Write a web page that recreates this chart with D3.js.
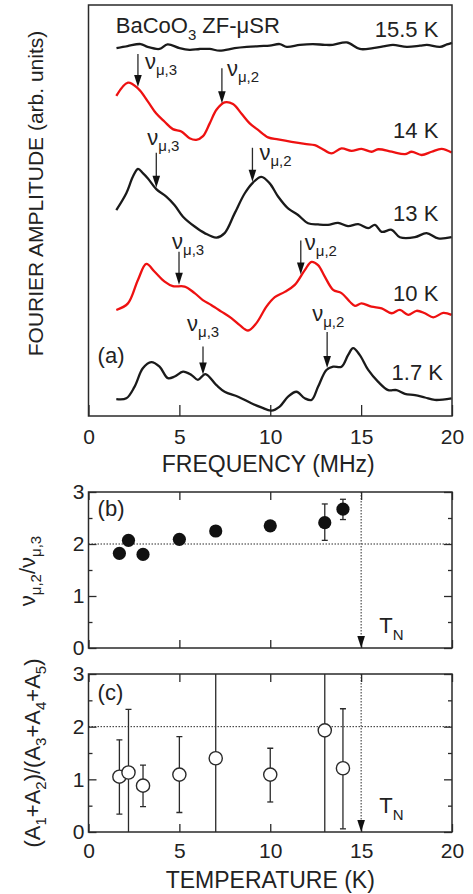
<!DOCTYPE html>
<html>
<head>
<meta charset="utf-8">
<script src="https://cdn.jsdelivr.net/npm/d3@7"></script>
<style>
body { margin: 0; background: #fff; }
svg text { font-family: "Liberation Sans", Arial, sans-serif; fill: #222; }
</style>
</head>
<body>
<div id="chart"></div>
<script>
// ---- (a) ZF-muSR Fourier spectra, amplitude in arb. units ----
var freq155 = [1.54, 2.15, 2.87, 3.25, 3.91, 4.35, 5.01, 5.56, 6.12, 6.67, 7.22, 8.04, 8.71, 9.42, 9.97, 10.52, 10.91, 11.63, 12.34, 13.0, 13.44, 14.21, 14.93, 15.65, 16.31, 16.75, 17.52, 18.24, 18.62, 19.34, 19.72, 20.0];
var amp155 = [89.5, 90.0, 90.5, 89.8, 89.3, 90.4, 89.5, 89.1, 89.3, 89.3, 88.9, 89.5, 89.8, 90.0, 90.1, 90.5, 89.8, 90.3, 90.5, 90.3, 90.3, 90.9, 89.3, 89.5, 90.0, 90.3, 89.8, 90.1, 90.3, 89.8, 90.4, 90.8];

var freq14 = [1.53, 2.17, 2.72, 3.27, 3.73, 4.19, 4.64, 5.11, 5.56, 5.93, 6.30, 6.67, 7.04, 7.49, 7.95, 8.41, 8.87, 9.33, 9.88, 10.43, 11.17, 11.90, 12.45, 12.82, 13.37, 13.92, 14.47, 15.02, 15.58, 15.94, 16.68, 17.41, 17.78, 18.33, 18.88, 19.43, 19.98];
var amp14 = [77.9, 81.1, 79.7, 76.5, 73.6, 71.6, 69.8, 69.2, 67.6, 67.2, 68.1, 71.2, 74.5, 76.3, 75.9, 73.6, 71.2, 69.6, 67.8, 67.3, 66.7, 66.2, 65.9, 65.1, 63.9, 65.1, 64.5, 65.0, 64.3, 64.9, 64.3, 63.7, 64.3, 63.5, 64.3, 65.0, 64.1];

var freq13 = [1.53, 2.08, 2.44, 2.72, 2.99, 3.27, 3.73, 4.28, 4.74, 5.20, 5.84, 6.39, 7.04, 7.49, 8.04, 8.60, 9.05, 9.51, 9.97, 10.43, 10.98, 11.53, 12.08, 12.63, 13.18, 13.73, 14.28, 14.84, 15.39, 15.76, 16.13, 16.68, 17.13, 17.96, 18.60, 19.24, 19.98];
var amp13 = [50.1, 54.2, 58.2, 60.1, 59.1, 57.8, 55.2, 53.4, 51.3, 48.5, 46.1, 44.5, 43.4, 44.5, 49.3, 54.2, 56.8, 58.2, 56.6, 53.4, 50.5, 48.9, 46.9, 46.6, 46.5, 47.0, 46.2, 46.7, 45.7, 46.5, 44.8, 45.3, 43.5, 43.5, 44.5, 43.2, 43.5];

var freq10 = [1.53, 2.17, 2.72, 3.18, 3.64, 4.19, 4.64, 5.29, 5.84, 6.29, 6.75, 7.31, 7.86, 8.32, 8.78, 9.24, 9.79, 10.25, 10.80, 11.35, 11.90, 12.27, 12.63, 13.00, 13.46, 13.92, 14.38, 14.66, 15.02, 15.57, 16.13, 16.68, 17.13, 17.59, 18.05, 18.51, 18.97, 19.52, 19.98];
var amp10 = [25.8, 27.4, 33.1, 37.0, 35.1, 32.7, 31.6, 31.5, 29.9, 28.2, 27.0, 25.4, 23.8, 22.1, 20.8, 22.6, 26.6, 28.9, 30.2, 31.9, 35.5, 37.5, 36.7, 33.9, 30.7, 29.9, 27.8, 26.8, 27.4, 26.6, 26.2, 25.0, 25.8, 24.6, 25.6, 25.0, 24.0, 25.1, 24.6];

var freq17 = [1.53, 2.08, 2.53, 2.99, 3.45, 3.91, 4.37, 4.74, 5.20, 5.66, 6.02, 6.43, 7.04, 7.49, 8.23, 8.96, 9.51, 10.06, 10.52, 10.98, 11.44, 11.90, 12.27, 12.63, 13.09, 13.46, 13.92, 14.28, 14.56, 14.93, 15.39, 15.94, 16.49, 16.95, 17.41, 17.96, 18.51, 19.06, 19.98];
var amp17 = [4.1, 4.3, 7.1, 11.6, 13.1, 12.0, 9.2, 9.6, 10.8, 10.0, 8.8, 10.2, 7.5, 5.9, 4.7, 3.1, 2.1, 1.3, 2.3, 4.7, 5.9, 4.3, 3.9, 7.1, 11.2, 12.0, 12.0, 14.8, 16.5, 14.8, 11.2, 8.3, 6.3, 6.3, 5.4, 5.1, 4.5, 3.9, 4.3];

var specLabels = ["15.5 K", "14 K", "13 K", "10 K", "1.7 K"];
var specColors = ["#1a1a1a", "#ee1111", "#1a1a1a", "#ee1111", "#1a1a1a"];

// muon frequencies marked by arrows (MHz) for 14 K, 13 K, 10 K, 1.7 K
var nu3 = [2.72, 3.73, 4.98, 6.30];
var nu2 = [7.34, 9.02, 11.68, 13.13];

// ---- (b) frequency ratio ----
var tempB = [1.7, 2.2, 3, 5, 7, 10, 13, 14];
var ratioB = [1.82, 2.07, 1.80, 2.09, 2.25, 2.35, 2.41, 2.67];
var loB = [null, null, null, null, null, null, 2.07, 2.47];
var hiB = [null, null, null, null, null, null, 2.77, 2.86];

// ---- (c) amplitude ratio ----
var tempC = [1.7, 2.2, 3, 5, 7, 10, 13, 14];
var ratioC = [1.05, 1.13, 0.88, 1.09, 1.40, 1.09, 1.93, 1.21];
var loC = [0.34, 0, 0.48, 0.37, 0, 0.57, 0, 0.06];
var hiC = [1.75, 2.33, 1.27, 1.81, 3.2, 1.59, 3.2, 2.34];

var TN = 15;
var xTicks = [0, 5, 10, 15, 20];
var yMajor = [0, 1, 2, 3];
var yMinor = [0.5, 1.5, 2.5];

// ---- layout ----
var width = 473, height = 894;
var left = 88.5, right = 452;
var topA = 5, botA = 416, topB = 492, botB = 648, topC = 674, botC = 832;
var ink = "#2a2a2a";

var svg = d3.select("#chart").append("svg")
  .attr("width", width).attr("height", height);

var xA = d3.scaleLinear().domain([0, 20]).range([left, right]);
var yA = d3.scaleLinear().domain([0, 100]).range([botA, topA]);
var xT = d3.scaleLinear().domain([0, 20]).range([left, right]);
var yB = d3.scaleLinear().domain([0, 3]).range([botB, topB]);
var yC = d3.scaleLinear().domain([0, 3]).range([botC, topC]);

// text with subscripts: parts = [[string, isSub], ...]
function rich(g, parts, size, subSize, drop) {
  var t = g.append("text").attr("font-size", size);
  var shift = 0;
  parts.forEach(function(p) {
    var want = p[1] ? drop : 0;
    t.append("tspan").attr("dy", want - shift)
      .attr("font-size", p[1] ? subSize : size).text(p[0]);
    shift = want;
  });
  return t;
}

function styleAxis(g) {
  g.select(".domain").remove();
  g.attr("font-size", 21).attr("font-family", null);
  g.selectAll(".tick line").attr("stroke", ink).attr("stroke-width", 1.3);
  g.selectAll(".tick text").attr("fill", "#222");
}

function frame(top, bottom) {
  svg.append("rect")
    .attr("x", left).attr("y", top)
    .attr("width", right - left).attr("height", bottom - top)
    .attr("fill", "none").attr("stroke", ink).attr("stroke-width", 1.5);
}

// ================= panel (a) =================
svg.append("g").attr("transform", "translate(0," + botA + ")")
  .call(d3.axisBottom(xA).tickValues(xTicks).tickSizeInner(-11).tickSizeOuter(0).tickPadding(13))
  .call(styleAxis);

var spectra = [[freq155, amp155], [freq14, amp14], [freq13, amp13], [freq10, amp10], [freq17, amp17]];
var line = d3.line()
  .x(function(d) { return xA(d[0]); })
  .y(function(d) { return yA(d[1]); })
  .curve(d3.curveCatmullRom.alpha(0.5));

spectra.forEach(function(s, i) {
  var pts = d3.zip(s[0], s[1]);
  svg.append("path").datum(pts)
    .attr("d", line)
    .attr("fill", "none")
    .attr("stroke", specColors[i])
    .attr("stroke-width", 2.3)
    .attr("stroke-linejoin", "round");
});
frame(topA, botA);

// temperature labels, right aligned
var tempLabelAmp = [92.2, 67.6, 47.4, 28.0, 8.8];
var tempLabelX = [19.25, 19.25, 19.25, 19.25, 19.5];
specLabels.forEach(function(lab, i) {
  svg.append("text")
    .attr("x", xA(tempLabelX[i])).attr("y", yA(tempLabelAmp[i]))
    .attr("text-anchor", "end").attr("font-size", 22).text(lab);
});

rich(svg, [["BaCoO", false], ["3", true], [" ZF-\u03bcSR", false]], 22, 15, 7)
  .attr("x", xA(1.5)).attr("y", yA(93.2));

svg.append("text").attr("x", xA(0.5)).attr("y", yA(12.9))
  .attr("font-size", 22).text("(a)");

function interp(fs, as, f) {
  var i = d3.bisectLeft(fs, f);
  var t = (f - fs[i - 1]) / (fs[i] - fs[i - 1]);
  return as[i - 1] + t * (as[i] - as[i - 1]);
}

function arrowDown(x, yTop, yTip, dashed) {
  var head = 12, half = 3.8;
  svg.append("line")
    .attr("x1", x).attr("x2", x).attr("y1", yTop).attr("y2", yTip - head + 1)
    .attr("stroke", ink).attr("stroke-width", dashed ? 1 : 1.3)
    .attr("stroke-dasharray", dashed ? "1.5,1.5" : null);
  svg.append("path")
    .attr("d", "M" + (x - half) + "," + (yTip - head) + "L" + (x + half) + "," + (yTip - head) + "L" + x + "," + yTip + "Z")
    .attr("fill", "#111");
}

// arrow + nu label placement: arrow length and label offset from arrow top (px)
var nuCurves = [[freq14, amp14], [freq13, amp13], [freq10, amp10], [freq17, amp17]];
var nu3Place = [[33, 7, 15], [35, -9, -8], [33, -7, -3], [28, -16, -15]];
var nu2Place = [[35, 5, 8], [34, 7, 12], [34, 4, 9], [36, -15, -11]];

function nuMark(f, curve, place, idx) {
  var ax = xA(f);
  var tip = yA(interp(curve[0], curve[1], f)) - 1.5;
  var top = tip - place[0];
  arrowDown(ax, top, tip, false);
  rich(svg, [["\u03bd", false], ["\u03bc," + idx, true]], 22, 15, 6)
    .attr("x", ax + place[1]).attr("y", top + place[2]);
}
nuCurves.forEach(function(c, i) {
  nuMark(nu3[i], c, nu3Place[i], 3);
  nuMark(nu2[i], c, nu2Place[i], 2);
});

svg.append("text")
  .attr("transform", "translate(43," + ((topA + botA) / 2 - 17) + ") rotate(-90)")
  .attr("text-anchor", "middle").attr("font-size", 21)
  .text("FOURIER AMPLITUDE (arb. units)");
svg.append("text")
  .attr("x", (left + right) / 2 - 2).attr("y", 472)
  .attr("text-anchor", "middle").attr("font-size", 23)
  .text("FREQUENCY (MHz)");

// ================= panels (b) and (c) =================
function tAxes(y, top, bottom, showX) {
  svg.append("g").attr("transform", "translate(0," + bottom + ")")
    .call(d3.axisBottom(xT).tickValues(xTicks).tickSizeInner(-8).tickSizeOuter(0).tickPadding(11)
      .tickFormat(showX ? d3.format("d") : function() { return ""; }))
    .call(styleAxis);
  svg.append("g").attr("transform", "translate(0," + top + ")")
    .call(d3.axisTop(xT).tickValues(xTicks).tickSizeInner(-8).tickSizeOuter(0).tickFormat(function() { return ""; }))
    .call(styleAxis);
  svg.append("g").attr("transform", "translate(" + left + ",0)")
    .call(d3.axisLeft(y).tickValues(yMajor).tickSizeInner(-8).tickSizeOuter(0).tickPadding(4).tickFormat(d3.format("d")))
    .call(styleAxis);
  svg.append("g").attr("transform", "translate(" + left + ",0)")
    .call(d3.axisLeft(y).tickValues(yMinor).tickSizeInner(-4).tickSizeOuter(0).tickFormat(function() { return ""; }))
    .call(styleAxis);
  svg.append("g").attr("transform", "translate(" + right + ",0)")
    .call(d3.axisRight(y).tickValues(yMajor).tickSizeInner(-8).tickSizeOuter(0).tickFormat(function() { return ""; }))
    .call(styleAxis);
  svg.append("g").attr("transform", "translate(" + right + ",0)")
    .call(d3.axisRight(y).tickValues(yMinor).tickSizeInner(-4).tickSizeOuter(0).tickFormat(function() { return ""; }))
    .call(styleAxis);

  // guide at ratio 2 and T_N marker
  svg.append("line")
    .attr("x1", left).attr("x2", right).attr("y1", y(2)).attr("y2", y(2))
    .attr("stroke", ink).attr("stroke-width", 1).attr("stroke-dasharray", "1.5,1.5");
  arrowDown(xT(TN), top, bottom, true);
}

function errorBars(temps, lo, hi, y, clipId) {
  var g = svg.append("g").attr("clip-path", clipId ? "url(#" + clipId + ")" : null);
  temps.forEach(function(t, i) {
    if (lo[i] === null) return;
    var cx = xT(t);
    g.append("line").attr("x1", cx).attr("x2", cx)
      .attr("y1", y(lo[i])).attr("y2", y(hi[i]))
      .attr("stroke", ink).attr("stroke-width", 1.3);
    [lo[i], hi[i]].forEach(function(v) {
      if (v <= 0 || v >= 3) return;
      g.append("line").attr("x1", cx - 3).attr("x2", cx + 3)
        .attr("y1", y(v)).attr("y2", y(v))
        .attr("stroke", ink).attr("stroke-width", 1.3);
    });
  });
}

svg.append("defs").append("clipPath").attr("id", "clipC")
  .append("rect").attr("x", left).attr("y", topC)
  .attr("width", right - left).attr("height", botC - topC);

// (b)
tAxes(yB, topB, botB, false);
errorBars(tempB, loB, hiB, yB, null);
svg.append("g").selectAll("circle").data(tempB).enter().append("circle")
  .attr("cx", function(d) { return xT(d); })
  .attr("cy", function(d, i) { return yB(ratioB[i]); })
  .attr("r", 6.6).attr("fill", "#111");
frame(topB, botB);

// (c)
tAxes(yC, topC, botC, true);
errorBars(tempC, loC, hiC, yC, "clipC");
svg.append("g").selectAll("circle").data(tempC).enter().append("circle")
  .attr("cx", function(d) { return xT(d); })
  .attr("cy", function(d, i) { return yC(ratioC[i]); })
  .attr("r", 6.6).attr("fill", "#fff").attr("stroke", ink).attr("stroke-width", 1.4);
frame(topC, botC);

svg.append("text").attr("x", xT(0.5)).attr("y", yB(2.54)).attr("font-size", 22).text("(b)");
svg.append("text").attr("x", xT(0.5)).attr("y", yC(2.51)).attr("font-size", 22).text("(c)");

rich(svg, [["T", false], ["N", true]], 22, 15, 7).attr("x", xT(16.0)).attr("y", yB(0.29));
rich(svg, [["T", false], ["N", true]], 22, 15, 7).attr("x", xT(16.0)).attr("y", yC(0.36));

rich(svg, [["\u03bd", false], ["\u03bc,2", true], ["/\u03bd", false], ["\u03bc,3", true]], 22, 15, 6)
  .attr("transform", "translate(35," + 571 + ") rotate(-90)")
  .attr("text-anchor", "middle");

rich(svg, [["(A", false], ["1", true], ["+A", false], ["2", true], [")/(A", false], ["3", true],
           ["+A", false], ["4", true], ["+A", false], ["5", true], [")", false]], 22, 15, 6)
  .attr("transform", "translate(40," + 753 + ") rotate(-90)")
  .attr("text-anchor", "middle");

svg.append("text")
  .attr("x", (left + right) / 2).attr("y", 888)
  .attr("text-anchor", "middle").attr("font-size", 23)
  .text("TEMPERATURE (K)");
</script>
</body>
</html>
